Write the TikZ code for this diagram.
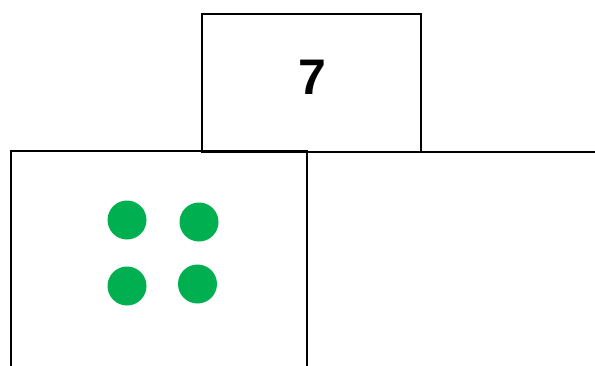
\documentclass[tikz,border=0pt]{standalone}
\usepackage{fontspec}
\setmainfont{Liberation Sans}
\definecolor{dotgreen}{HTML}{00B050}
\begin{document}
\begin{tikzpicture}[x=1pt,y=-1pt,
  boxline/.style={draw=black,line width=2pt},
  dot/.style={circle,fill=dotgreen,draw=none,minimum size=39pt,inner sep=0pt}]
\useasboundingbox (0,0) rectangle (595,365);
\node[boxline,rectangle,minimum width=219pt,minimum height=138pt,inner sep=0pt,anchor=north west] (top) at (201,13) {};
\node[font=\bfseries\fontsize{50}{50}\selectfont] (seven) at (312,77) {7};
\draw[line width=2pt] (11,368) -- (11,151) -- (307,151) -- (307,368);
\coordinate (rEnd) at (600,152);
\draw[line width=2pt] (307,152) -- (rEnd);
\node[dot] (d1) at (127,220) {};
\node[dot] (d2) at (199,222) {};
\node[dot] (d3) at (127,286) {};
\node[dot] (d4) at (197.5,284) {};
\end{tikzpicture}
\end{document}
